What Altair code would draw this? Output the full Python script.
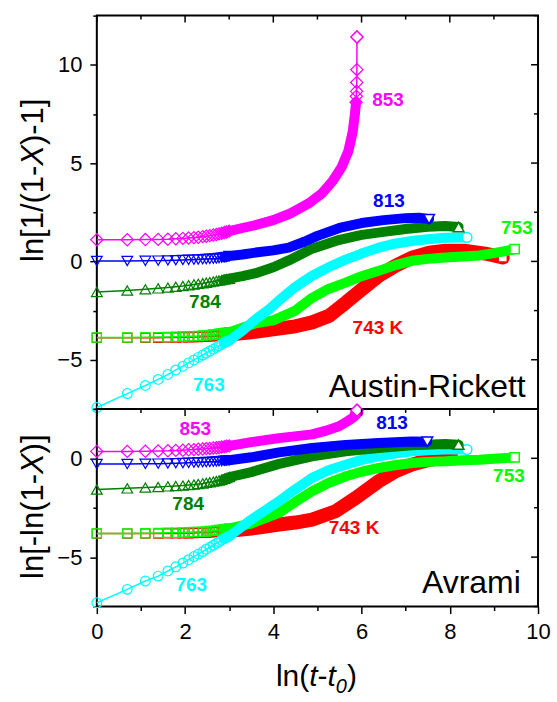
import altair as alt
import pandas as pd

# ---------------- data ----------------
# x = ln(t - t0) of the first, well separated points (shared by all series)
X_EARLY = [0.0, 0.69, 1.10, 1.39, 1.61, 1.79, 1.95, 2.08, 2.20, 2.30,
           2.40, 2.48, 2.56, 2.64, 2.71, 2.77, 2.83, 2.89, 2.94, 3.00]

# ---- Austin-Rickett panel: ln[1/(1-X)-1] ----
AR_853_EARLY = [1.10, 1.10, 1.11, 1.12, 1.13, 1.15, 1.17, 1.19, 1.21, 1.23,
                1.26, 1.28, 1.31, 1.34, 1.37, 1.40, 1.43, 1.47, 1.50, 1.54]
AR_853_X = [3.3, 3.6, 4.0, 4.4, 4.8, 5.1, 5.35, 5.55, 5.7, 5.8, 5.85, 5.875,
            5.882, 5.887, 5.891, 5.894, 5.896]
AR_853_Y = [1.7, 1.85, 2.1, 2.45, 2.95, 3.45, 4.1, 4.8, 5.6, 6.6, 7.5, 8.1,
            8.4, 8.65, 9.1, 9.75, 11.41]

AR_813_EARLY = [0.02, 0.02, 0.03, 0.04, 0.05, 0.06, 0.07, 0.08, 0.09, 0.10,
                0.11, 0.12, 0.13, 0.14, 0.15, 0.17, 0.19, 0.21, 0.23, 0.27]
AR_813_X = [3.3, 3.6, 4.0, 4.35, 4.7, 5.0, 5.5, 6.0, 6.5, 7.0, 7.3, 7.53]
AR_813_Y = [0.35, 0.45, 0.56, 0.70, 1.0, 1.3, 1.7, 1.95, 2.1, 2.2, 2.22, 2.15]

AR_784_EARLY = [-1.55, -1.48, -1.42, -1.37, -1.33, -1.29, -1.25, -1.21, -1.17, -1.14,
                -1.11, -1.08, -1.05, -1.02, -0.99, -0.97, -0.95, -0.92, -0.90, -0.88]
AR_784_X = [3.3, 3.6, 4.0, 4.35, 4.88, 5.5, 6.0, 6.5, 7.0, 7.5, 7.9, 8.2]
AR_784_Y = [-0.75, -0.6, -0.3, 0.05, 0.65, 1.1, 1.35, 1.5, 1.65, 1.76, 1.8, 1.75]

AR_763_EARLY = [-7.43, -6.72, -6.31, -6.00, -5.75, -5.52, -5.33, -5.16, -5.01, -4.88,
                -4.76, -4.66, -4.56, -4.46, -4.37, -4.29, -4.21, -4.14, -4.08, -4.02]
AR_763_X = [3.3, 3.6, 3.9, 4.2, 4.5, 4.88, 5.25, 5.64, 6.0, 6.39, 6.75, 7.14,
            7.5, 7.9, 8.2, 8.39]
AR_763_Y = [-3.53, -2.94, -2.44, -1.85, -1.3, -0.73, -0.3, 0.09, 0.4, 0.7, 0.9,
            1.04, 1.13, 1.2, 1.22, 1.22]

AR_753_EARLY = [-3.87, -3.87, -3.86, -3.85, -3.84, -3.83, -3.82, -3.81, -3.80, -3.79,
                -3.77, -3.76, -3.74, -3.72, -3.70, -3.68, -3.66, -3.64, -3.62, -3.60]
AR_753_X = [3.3, 3.6, 4.0, 4.5, 4.88, 5.25, 5.64, 6.0, 6.39, 6.75, 7.14, 7.5,
            7.9, 8.3, 8.66, 9.0, 9.27, 9.47]
AR_753_Y = [-3.37, -3.15, -3.0, -2.5, -1.85, -1.4, -1.08, -0.75, -0.48, -0.2,
            0.03, 0.13, 0.2, 0.25, 0.3, 0.42, 0.53, 0.62]

AR_743_EARLY = [-3.88, -3.88, -3.88, -3.88, -3.87, -3.87, -3.86, -3.86, -3.85, -3.84,
                -3.83, -3.82, -3.81, -3.80, -3.79, -3.78, -3.77, -3.76, -3.74, -3.72]
AR_743_X = [3.5, 4.0, 4.5, 4.88, 5.26, 5.64, 6.0, 6.39, 6.77, 7.14, 7.53, 7.9,
            8.36, 8.8, 9.2]
AR_743_Y = [-3.6, -3.45, -3.3, -3.1, -2.77, -2.1, -1.43, -0.73, -0.22, 0.19,
            0.44, 0.54, 0.54, 0.4, 0.2]

# ---- Avrami panel: ln[-ln(1-X)] ----
AV_853_EARLY = [0.35, 0.35, 0.36, 0.37, 0.38, 0.40, 0.41, 0.43, 0.44, 0.46,
                0.47, 0.49, 0.50, 0.52, 0.53, 0.55, 0.57, 0.59, 0.61, 0.63]
AV_853_X = [3.5, 4.13, 4.88, 5.2, 5.49, 5.7, 5.8, 5.85, 5.875, 5.885, 5.89, 5.893, 5.896]
AV_853_Y = [0.82, 1.02, 1.21, 1.4, 1.62, 1.9, 2.05, 2.15, 2.2, 2.24, 2.28, 2.34, 2.43]

AV_813_EARLY = [-0.29, -0.29, -0.28, -0.27, -0.26, -0.25, -0.24, -0.23, -0.22, -0.21,
                -0.20, -0.19, -0.18, -0.17, -0.16, -0.15, -0.14, -0.12, -0.11, -0.10]
AV_813_X = [3.5, 4.13, 4.88, 5.64, 6.39, 7.14, 7.49]
AV_813_Y = [0.05, 0.3, 0.52, 0.68, 0.77, 0.85, 0.84]

AV_784_EARLY = [-1.58, -1.52, -1.48, -1.45, -1.42, -1.40, -1.38, -1.35, -1.33, -1.30,
                -1.27, -1.24, -1.21, -1.18, -1.15, -1.12, -1.08, -1.04, -1.00, -0.95]
AV_784_X = [3.5, 4.13, 4.88, 5.64, 6.39, 7.14, 7.9, 8.2]
AV_784_Y = [-0.7, -0.28, 0.1, 0.35, 0.52, 0.66, 0.72, 0.69]

AV_763_EARLY = [-7.31, -6.63, -6.21, -5.96, -5.70, -5.49, -5.30, -5.13, -4.97, -4.85,
                -4.72, -4.60, -4.50, -4.40, -4.30, -4.22, -4.14, -4.07, -4.00, -3.94]
AV_763_X = [3.45, 3.9, 4.13, 4.35, 4.88, 5.25, 5.64, 6.0, 6.39, 6.75, 7.14, 7.5,
            7.9, 8.2, 8.39]
AV_763_Y = [-3.18, -2.51, -2.17, -1.8, -0.99, -0.6, -0.32, -0.08, 0.1, 0.24, 0.35,
            0.41, 0.44, 0.45, 0.44]

AV_753_EARLY = [-3.80, -3.80, -3.79, -3.78, -3.77, -3.76, -3.75, -3.74, -3.73, -3.72,
                -3.71, -3.70, -3.68, -3.67, -3.65, -3.63, -3.61, -3.59, -3.57, -3.55]
AV_753_X = [3.5, 4.13, 4.5, 4.88, 5.25, 5.64, 6.0, 6.39, 6.75, 7.14, 7.5, 7.9,
            8.3, 8.66, 9.0, 9.27, 9.47]
AV_753_Y = [-3.3, -2.76, -2.2, -1.67, -1.25, -0.91, -0.68, -0.49, -0.35, -0.24,
            -0.18, -0.15, -0.1, -0.07, -0.02, 0.02, 0.05]

AV_743_EARLY = [-3.81, -3.81, -3.81, -3.81, -3.80, -3.80, -3.79, -3.79, -3.78, -3.77,
                -3.76, -3.75, -3.74, -3.73, -3.72, -3.71, -3.70, -3.69, -3.68, -3.67]
AV_743_X = [3.5, 4.13, 4.5, 4.88, 5.41, 5.87, 6.39, 6.77, 7.14, 7.53, 7.9, 8.27]
AV_743_Y = [-3.55, -3.35, -3.25, -3.1, -2.68, -2.0, -1.16, -0.66, -0.32, -0.07, 0.02, 0.1]

# series labels (temperature, K) and their annotation texts
SERIES = ["743", "753", "763", "784", "813", "853"]
LABELS_AR = ["743 K", "753", "763", "784", "813", "853"]
LABELS_AV = ["743 K", "753", "763", "784", "813", "853"]
LABEL_X_AR = [6.37, 9.52, 2.54, 2.45, 6.62, 6.60]
LABEL_Y_AR = [-3.37, 1.71, -6.31, -2.05, 3.08, 8.21]
LABEL_X_AV = [5.83, 9.34, 2.14, 2.07, 6.69, 2.23]
LABEL_Y_AV = [-3.54, -0.91, -6.42, -2.32, 1.77, 1.46]

X_TICKS = [0, 1, 2, 3, 4, 5, 6, 7, 8, 9, 10]
AR_Y_TICKS = [-7.5, -5, -2.5, 0, 2.5, 5, 7.5, 10, 12.5]
AV_Y_TICKS = [-7.5, -5, -2.5, 0, 2.5]

# ---------------- styles ----------------
COLORS = {"743": "#FF0000", "753": "#00FF00", "763": "#00FFFF",
          "784": "#008000", "813": "#0000FF", "853": "#FF00FF"}
SHAPES = {"743": "square", "753": "square", "763": "circle",
          "784": "triangle-up", "813": "triangle-down", "853": "diamond"}
MSIZE = {"743": 85, "753": 85, "763": 95, "784": 115, "813": 115, "853": 150}
BAND_W = {"743": 14, "753": 10, "763": 10, "784": 10, "813": 10, "853": 10}
TAIL = {"853": 5}
TAIL_AV = {"853": 3}
FONT = "Liberation Sans"
W = 442
H_TOP = 394
H_BOT = 198
BAND_START = 2.85

AR = {
    "743": (AR_743_EARLY, AR_743_X, AR_743_Y), "753": (AR_753_EARLY, AR_753_X, AR_753_Y),
    "763": (AR_763_EARLY, AR_763_X, AR_763_Y), "784": (AR_784_EARLY, AR_784_X, AR_784_Y),
    "813": (AR_813_EARLY, AR_813_X, AR_813_Y), "853": (AR_853_EARLY, AR_853_X, AR_853_Y),
}
AV = {
    "743": (AV_743_EARLY, AV_743_X, AV_743_Y), "753": (AV_753_EARLY, AV_753_X, AV_753_Y),
    "763": (AV_763_EARLY, AV_763_X, AV_763_Y), "784": (AV_784_EARLY, AV_784_X, AV_784_Y),
    "813": (AV_813_EARLY, AV_813_X, AV_813_Y), "853": (AV_853_EARLY, AV_853_X, AV_853_Y),
}

# Arial / Liberation Sans advance widths (per em)
CW = {"l": .222, "n": .556, "[": .278, "]": .278, "1": .556, "/": .278, "(": .333,
      ")": .333, "-": .333, "X": .667, "t": .278, "0": .556}


def tw(s, fs):
    return sum(CW[c] for c in s) * fs


def x_enc(field, show_axis):
    axis = None
    if show_axis:
        axis = alt.Axis(values=X_TICKS, title=None, labelFont=FONT, labelFontSize=22,
                        labelColor="black", labelPadding=8, labelFlush=False,
                        labelExpr="datum.value % 2 === 0 ? datum.label : ''",
                        tickColor="black", tickWidth=1.5, domain=False, grid=False,
                        tickSize={"condition": {"test": "datum.value % 2 === 0", "value": 7},
                                  "value": 4})
    return alt.X(field, type="quantitative", scale=alt.Scale(domain=[0, 10], nice=False, zero=False),
                 axis=axis)


def y_enc(field, dom, ticks):
    axis = alt.Axis(values=ticks, title=None, labelFont=FONT, labelFontSize=22,
                    labelColor="black", labelPadding=8,
                    labelExpr="datum.value % 5 === 0 ? datum.label : ''",
                    tickColor="black", tickWidth=1.5, domain=False, grid=False,
                    tickSize={"condition": {"test": "datum.value % 5 === 0", "value": 7},
                              "value": 4})
    return alt.Y(field, type="quantitative", scale=alt.Scale(domain=dom, nice=False, zero=False),
                 axis=axis)


def panel(data, dom, yticks, height, labels, lx, ly, tail, name, name_x, name_y,
          show_x, ytitle_parts, ytitle_center):
    layers = []
    X = lambda: x_enc("x", show_x)
    Y = lambda: y_enc("y", dom, yticks)
    for key in SERIES:
        early, dx, dy = data[key]
        xs = X_EARLY + dx
        ys = early + dy
        n = len(xs)
        nt = tail.get(key, 0)
        df = pd.DataFrame({"x": xs, "y": ys, "i": list(range(n))})
        c = COLORS[key]
        layers.append(alt.Chart(df).mark_line(color=c, strokeWidth=1.5).encode(
            x=X(), y=Y(), order="i:Q"))
        band = df[(df.x >= BAND_START) & (df.i < n - nt)]
        layers.append(alt.Chart(band).mark_line(
            color=c, strokeWidth=BAND_W[key], strokeCap="round", strokeJoin="round").encode(
            x=X(), y=Y(), order="i:Q"))
        mk = df[((df.x <= 3.0) | (df.i >= n - nt - 1)) & (df.i < n - 1)]
        layers.append(alt.Chart(mk).mark_point(
            shape=SHAPES[key], filled=False, color=c, size=MSIZE[key], strokeWidth=1.2,
            opacity=1).encode(x=X(), y=Y()))
        last = df[df.i == n - 1]
        layers.append(alt.Chart(last).mark_point(
            shape=SHAPES[key], filled=True, fill="white", stroke=c, size=MSIZE[key],
            strokeWidth=1.5, opacity=1).encode(x=X(), y=Y()))
    # temperature labels
    ldf = pd.DataFrame({"x": lx, "y": ly, "t": labels, "k": SERIES})
    layers.append(alt.Chart(ldf).mark_text(font=FONT, fontSize=19, fontWeight="bold",
                                           align="center", baseline="middle").encode(
        x=X(), y=Y(), text="t:N",
        color=alt.Color("k:N", scale=alt.Scale(domain=SERIES, range=[COLORS[k] for k in SERIES]),
                        legend=None)))
    # panel name
    ndf = pd.DataFrame({"x": [name_x], "y": [name_y], "t": [name]})
    layers.append(alt.Chart(ndf).mark_text(font=FONT, fontSize=32, align="right",
                                           baseline="alphabetic", color="black").encode(
        x=X(), y=Y(), text="t:N"))
    # inward mirror ticks: right side
    maj = [v for v in yticks if v % 5 == 0]
    mnr = [v for v in yticks if v % 5 != 0]
    for vals, ln in ((maj, 7), (mnr, 4)):
        layers.append(alt.Chart(pd.DataFrame({"y": vals})).mark_rule(
            color="black", strokeWidth=1.5).encode(
            y=Y(), x=alt.value(W - ln), x2=alt.value(W)))
    # inward mirror ticks: top side
    xmaj = [v for v in X_TICKS if v % 2 == 0]
    xmnr = [v for v in X_TICKS if v % 2 != 0]
    for vals, ln in ((xmaj, 7), (xmnr, 4)):
        layers.append(alt.Chart(pd.DataFrame({"x": vals})).mark_rule(
            color="black", strokeWidth=1.5).encode(
            x=X(), y=alt.value(0), y2=alt.value(ln)))
    # rotated y title built from pieces (X in italics)
    fs = 31
    total = sum(tw(s, fs) for s, _ in ytitle_parts)
    pos = ytitle_center + total / 2
    for s, style in ytitle_parts:
        layers.append(alt.Chart(pd.DataFrame({"t": [s]})).mark_text(
            font=FONT, fontSize=fs, fontStyle=style, angle=270, align="left",
            baseline="alphabetic", color="black").encode(
            text="t:N", x=alt.value(-54), y=alt.value(pos)))
        pos -= tw(s, fs)
    return layers


top_layers = panel(AR, [-7.5, 12.5], AR_Y_TICKS, H_TOP, LABELS_AR, LABEL_X_AR, LABEL_Y_AR,
                   TAIL, "Austin-Rickett", 9.72, -6.92, False,
                   [("ln[1/(1-", "normal"), ("X", "italic"), (")-1]", "normal")], 165)
bot_layers = panel(AV, [-7.5, 2.5], AV_Y_TICKS, H_BOT, LABELS_AV, LABEL_X_AV, LABEL_Y_AV,
                   TAIL_AV, "Avrami", 9.61, -6.82, True,
                   [("ln[-ln(1-", "normal"), ("X", "italic"), (")]", "normal")], 98)

# x title pieces: ln(t-t0) with italic t and subscript 0
fsx = 30
parts = [("ln(", "normal", fsx, 0), ("t", "italic", fsx, 0), ("-", "normal", fsx, 0),
         ("t", "italic", fsx, 0), ("0", "italic", 20, 7), (")", "normal", fsx, 0)]
total = sum(tw(s, f) for s, _, f, _ in parts)
px = 220 - total / 2
for s, style, f, dy in parts:
    bot_layers.append(alt.Chart(pd.DataFrame({"t": [s]})).mark_text(
        font=FONT, fontSize=f, fontStyle=style, align="left", baseline="alphabetic",
        color="black", dy=dy).encode(text="t:N", x=alt.value(px), y=alt.value(H_BOT + 80)))
    px += tw(s, f)

top = alt.layer(*top_layers).properties(width=W, height=H_TOP)
bot = alt.layer(*bot_layers).properties(width=W, height=H_BOT)

chart = alt.vconcat(top, bot, spacing=0, bounds="flush").properties(
    padding={"left": 17, "top": 13, "right": 5, "bottom": 5}
).configure_view(stroke="black", strokeWidth=2).configure_concat(spacing=0)

chart.save("out.html", embed_options={"renderer": "svg", "actions": False})
